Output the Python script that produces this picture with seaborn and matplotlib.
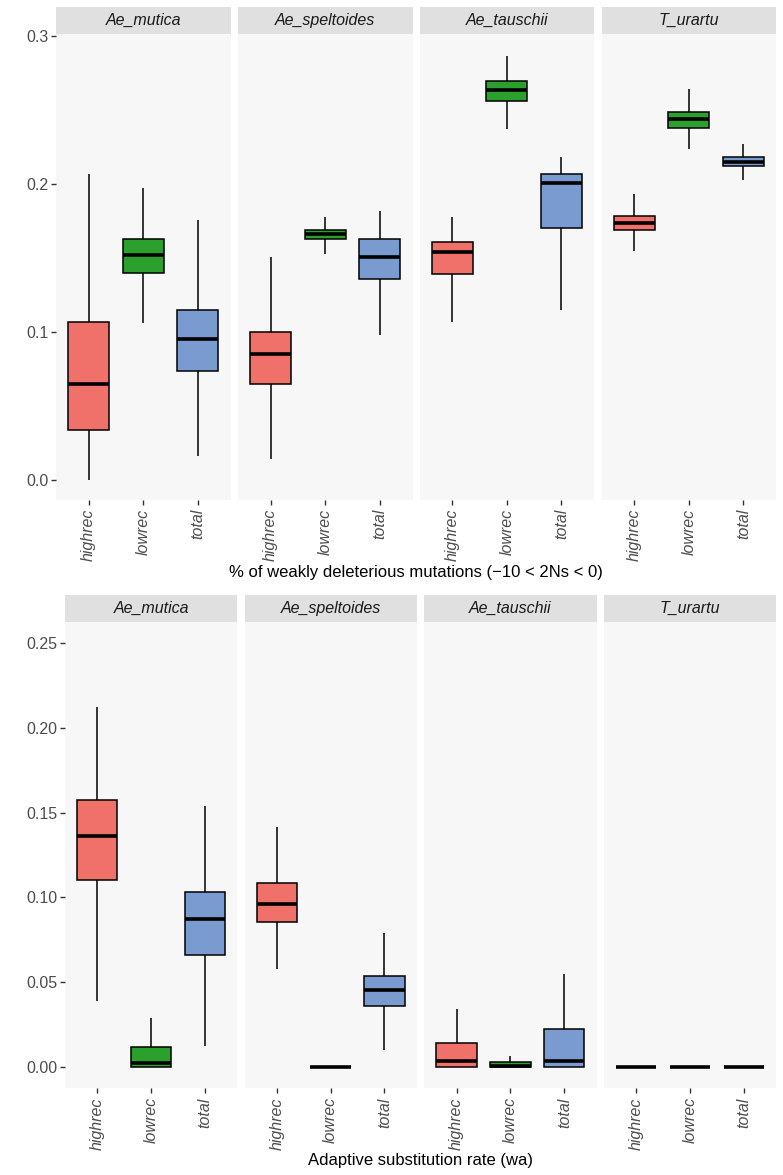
import numpy as np
import pandas as pd
import matplotlib
matplotlib.use("Agg")
import matplotlib.pyplot as plt
import seaborn as sns
from matplotlib.patches import Rectangle

# --- datos (resumen de 5 números por caja) ---
species = ["Ae_mutica", "Ae_speltoides", "Ae_tauschii", "T_urartu"]
classes = ["highrec", "lowrec", "total"]
colors = ["#F0706A", "#2CA02C", "#7A9BD0"]

# % de mutaciones débilmente deletéreas (orden: especie x clase)
wdel_min = [0.000, 0.106, 0.016, 0.014, 0.153, 0.098, 0.107, 0.237, 0.115, 0.155, 0.224, 0.2025]
wdel_q1 = [0.034, 0.140, 0.074, 0.065, 0.163, 0.136, 0.139, 0.256, 0.170, 0.169, 0.238, 0.212]
wdel_med = [0.065, 0.152, 0.095, 0.085, 0.166, 0.151, 0.154, 0.2635, 0.2005, 0.174, 0.2437, 0.215]
wdel_q3 = [0.1065, 0.1626, 0.115, 0.100, 0.169, 0.1626, 0.161, 0.2694, 0.207, 0.1786, 0.249, 0.218]
wdel_max = [0.207, 0.197, 0.176, 0.151, 0.1775, 0.182, 0.178, 0.2865, 0.2185, 0.193, 0.264, 0.227]
wdel_ticks = [0.0, 0.1, 0.2, 0.3]
wdel_ticklabels = ["0.0", "0.1", "0.2", "0.3"]

# tasa de sustitución adaptativa (wa)
wa_min = [0.039, 0.0, 0.012, 0.0575, 0.0, 0.010, 0.0, 0.0, 0.0, 0.0, 0.0, 0.0]
wa_q1 = [0.110, 0.0, 0.066, 0.0854, 0.0, 0.036, 0.0, 0.0, 0.0, 0.0, 0.0, 0.0]
wa_med = [0.136, 0.002, 0.087, 0.0962, 0.0, 0.045, 0.0034, 0.0006, 0.0034, 0.0, 0.0, 0.0]
wa_q3 = [0.1574, 0.0118, 0.103, 0.1083, 0.0, 0.0537, 0.0138, 0.0026, 0.0223, 0.0, 0.0, 0.0]
wa_max = [0.2125, 0.0289, 0.154, 0.1413, 0.0, 0.079, 0.0339, 0.0063, 0.0545, 0.0, 0.0, 0.0]
wa_ticks = [0.0, 0.05, 0.10, 0.15, 0.20, 0.25]
wa_ticklabels = ["0.00", "0.05", "0.10", "0.15", "0.20", "0.25"]


def build_df(mins, q1s, meds, q3s, maxs):
    """Cinco puntos por caja: con percentiles lineales dan exactamente el resumen."""
    rows = []
    i = 0
    for sp in species:
        for cl in classes:
            for v in (mins[i], q1s[i], meds[i], q3s[i], maxs[i]):
                rows.append({"species": sp, "class": cl, "value": v})
            i += 1
    return pd.DataFrame(rows)


df_wdel = build_df(wdel_min, wdel_q1, wdel_med, wdel_q3, wdel_max)
df_wa = build_df(wa_min, wa_q1, wa_med, wa_q3, wa_max)

sns.set_style("white")
plt.rcParams["font.family"] = ["Liberation Sans", "DejaVu Sans"]

W, H = 783, 1175
fig = plt.figure(figsize=(W / 100, H / 100), dpi=100)


def px_axes(x0, y0, x1, y1):
    return fig.add_axes([x0 / W, 1 - y1 / H, (x1 - x0) / W, (y1 - y0) / H])


def draw_row(df, lefts, width, top, bottom, strip_h, ylim, ticks, ticklabels, xlabel, label_y):
    panel_h = bottom - top
    for k, sp in enumerate(species):
        ax = px_axes(lefts[k], top, lefts[k] + width, bottom)
        ax.set_facecolor("#F7F7F7")
        sub = df[df["species"] == sp]
        sns.boxplot(
            data=sub, x="class", y="value", hue="class", order=classes,
            hue_order=classes, palette=colors, saturation=1, width=0.75,
            whis=(0, 100), showfliers=False, showcaps=False,
            linecolor="black", linewidth=1.1, legend=False, ax=ax,
            medianprops={"color": "black", "linewidth": 2.6},
            whiskerprops={"color": "black", "linewidth": 1.1},
        )
        ax.set_xlim(-0.6, 2.6)
        ax.set_ylim(*ylim)
        for s in ax.spines.values():
            s.set_visible(False)
        ax.set_xlabel("")
        ax.set_ylabel("")
        ax.set_xticks(range(len(classes)))
        ax.set_xticklabels(classes, rotation=90, ha="right", va="center",
                           rotation_mode="anchor", fontstyle="italic")
        ax.set_yticks(ticks)
        if k == 0:
            ax.set_yticklabels(ticklabels)
            ax.tick_params(axis="y", length=3.5, width=1, color="#333333",
                           labelcolor="#4D4D4D", labelsize=11.5, pad=2, left=True)
        else:
            ax.tick_params(axis="y", left=False, labelleft=False)
        ax.tick_params(axis="x", length=3.5, width=1, color="#333333",
                       labelcolor="#4D4D4D", labelsize=11.5, pad=3, bottom=True)
        # franja de título (estilo facet)
        sh = strip_h / panel_h
        ax.add_patch(Rectangle((0, 1), 1, sh, transform=ax.transAxes,
                               facecolor="#E0E0E0", edgecolor="none", clip_on=False))
        ax.text(0.5, 1 + sh / 2, sp, transform=ax.transAxes, ha="center", va="center",
                fontsize=11.5, fontstyle="italic", color="#1A1A1A")
    cx = (lefts[0] + lefts[-1] + width) / 2
    fig.text(cx / W, 1 - label_y / H, xlabel, ha="center", va="center",
             fontsize=12, color="black")


draw_row(df_wdel, [56, 238, 419.5, 601.5], 174.5, 34, 500, 27,
         (-0.0135, 0.3014), wdel_ticks, wdel_ticklabels,
         "% of weakly deleterious mutations (\u221210 < 2Ns < 0)", 572)
draw_row(df_wa, [65, 244.5, 424.3, 603.8], 172.3, 622.3, 1088.3, 27.3,
         (-0.01275, 0.2623), wa_ticks, wa_ticklabels,
         "Adaptive substitution rate (wa)", 1160)

fig.savefig("out.png", dpi=100)
